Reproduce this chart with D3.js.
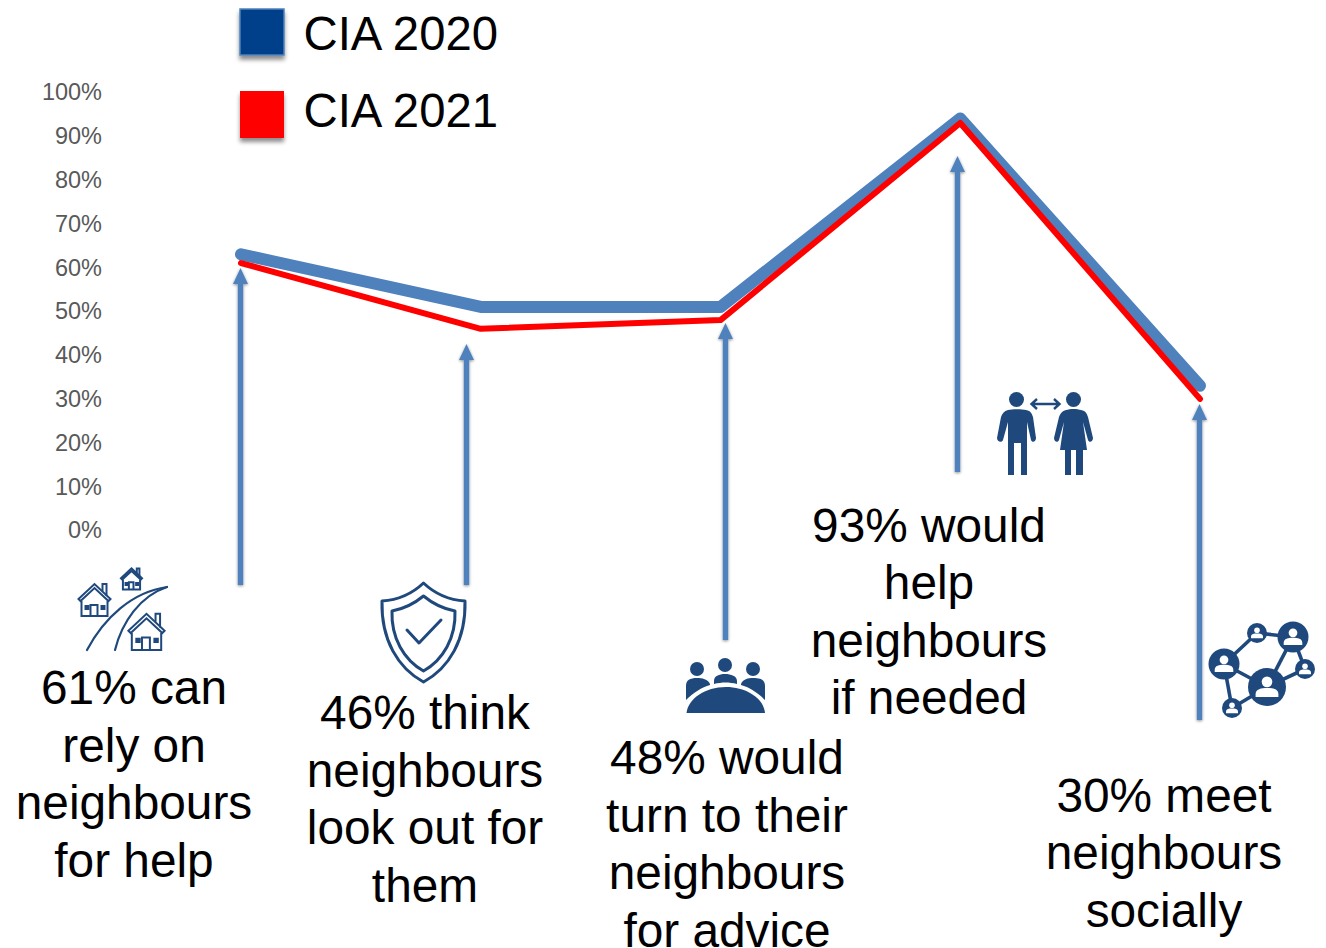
<!DOCTYPE html>
<html>
<head>
<meta charset="utf-8">
<script src="https://cdn.jsdelivr.net/npm/d3@7"></script>
<style>
html,body{margin:0;padding:0;background:#fff;}
svg{display:block;}
text{font-family:"Liberation Sans",Arial,sans-serif;}
</style>
</head>
<body>
<svg id="chart" width="1326" height="948"></svg>
<script>
// Neighbourhood survey results, two survey waves
const categories = ["Rely on neighbours","Look out for them","Turn for advice","Would help","Meet socially"];
const cia2020 = [63, 51, 51, 94, 33];
const cia2021 = [61, 46, 48, 93, 30];
const yTicks = [0,10,20,30,40,50,60,70,80,90,100];
const seriesNames = ["CIA 2020","CIA 2021"];
const captions = [
  ["61% can","rely on","neighbours","for help"],
  ["46% think","neighbours","look out for","them"],
  ["48% would","turn to their","neighbours","for advice"],
  ["93% would","help","neighbours","if needed"],
  ["30% meet","neighbours","socially"]
];

const BLUE = "#4f81bd", NAVY = "#1f497d", RED = "#ff0000";
const svg = d3.select("#chart");

const defs = svg.append("defs");
const soft = defs.append("filter").attr("id","soft").attr("filterUnits","userSpaceOnUse")
  .attr("x",0).attr("y",0).attr("width",1326).attr("height",948);
soft.append("feDropShadow").attr("dx",0).attr("dy",1).attr("stdDeviation",1.8).attr("flood-color","#000").attr("flood-opacity",0.45);
const swatchShadow = defs.append("filter").attr("id","swatchShadow").attr("x","-20%").attr("y","-20%").attr("width","140%").attr("height","150%");
swatchShadow.append("feDropShadow").attr("dx",0).attr("dy",4).attr("stdDeviation",2.2).attr("flood-color","#000").attr("flood-opacity",0.45);

const x = d3.scalePoint().domain(categories).range([241,1200]);
const y = d3.scaleLinear().domain([0,100]).range([530.3,92.3]);

// Percentage axis: labels only
const axis = svg.append("g").attr("transform","translate(102,0)")
  .call(d3.axisLeft(y).tickValues(yTicks).tickFormat(d=>d+"%").tickSize(0).tickPadding(0));
axis.select(".domain").remove();
axis.selectAll("text")
  .style("font-family",'"Liberation Sans",Arial,sans-serif')
  .attr("font-size",23.5).attr("fill","#595959").attr("dy","0.32em");

// Pointer arrows linking each caption to its point on the line
const pointers = [
  {x:240.500,top:268,bottom:585},
  {x:466.500,top:344,bottom:585},
  {x:725.500,top:323,bottom:640},
  {x:957.500,top:156,bottom:472},
  {x:1199.500,top:404,bottom:720}
];
svg.append("g").selectAll("path").data(pointers).join("path")
  .attr("filter","url(#soft)").attr("fill",BLUE)
  .attr("d",p=>`M${p.x},${p.top}L${p.x+7.5},${p.top+16}L${p.x+2.7},${p.top+16}L${p.x+2.7},${p.bottom}L${p.x-2.7},${p.bottom}L${p.x-2.7},${p.top+16}L${p.x-7.5},${p.top+16}Z`);

// Series lines
const line = d3.line().x((d,i)=>x(categories[i])).y(d=>y(d));
svg.append("path").datum(cia2020).attr("d",line).attr("fill","none")
  .attr("stroke",BLUE).attr("stroke-width",12).attr("stroke-linecap","round").attr("stroke-linejoin","round");
svg.append("path").datum(cia2021).attr("d",line).attr("fill","none")
  .attr("stroke",RED).attr("stroke-width",6).attr("stroke-linecap","round").attr("stroke-linejoin","round");

// Legend
const legendRows = [
  {fill:"#03408a",stroke:BLUE,y:9,h:46,base:50},
  {fill:RED,stroke:"none",y:91,h:47,base:127}
];
legendRows.forEach((r,i)=>{
  svg.append("rect").attr("x",240).attr("y",r.y).attr("width",44).attr("height",r.h)
    .attr("fill",r.fill).attr("stroke",r.stroke).attr("stroke-width",r.stroke==="none"?0:1.5)
    .attr("filter","url(#swatchShadow)");
  svg.append("text").attr("x",303.5).attr("y",r.base).attr("font-size",47.3).attr("fill","#000").text(seriesNames[i]);
});

// Captions
const captionAnchors = [
  {x:134,base:704.4},{x:425,base:729.4},{x:727,base:774},{x:929,base:541.6},{x:1164,base:811.6}
];
captions.forEach((lines,i)=>{
  const a = captionAnchors[i];
  svg.append("g").selectAll("text").data(lines).join("text")
    .attr("x",a.x).attr("y",(d,k)=>a.base+k*57.5)
    .attr("text-anchor","middle").attr("font-size",47.8).attr("fill","#000").text(d=>d);
});

// ---- Pictograms ----
function house(g,cx,base,s){
  const h = g.append("g").attr("transform",`translate(${cx},${base}) scale(${s})`)
    .attr("fill","none").attr("stroke",NAVY).attr("stroke-width",2/s).attr("stroke-linejoin","miter");
  h.append("path").attr("d","M-16,-17L0,-32L16,-17L14,-15L0,-28L-14,-15Z").attr("fill","#fff");
  h.append("path").attr("d","M-13,-15V0H13V-15");
  h.append("path").attr("d","M-4,0V-11H3V0");
  h.append("path").attr("d","M8,-25V-32H12V-20");
  h.append("path").attr("d","M-9,-10h3v3h-3zM7,-10h3v3h-3z").attr("fill",NAVY);
}
const roads = svg.append("g").attr("fill","none").attr("stroke",NAVY).attr("stroke-width",2.2).attr("stroke-linecap","round");
roads.append("path").attr("d","M87,650C104,618 132,592 167,587");
roads.append("path").attr("d","M115,650C122,622 140,596 167,587");
house(svg,94.5,616,1);
house(svg,131.5,589.5,0.66);
house(svg,146.5,650,1.13);

const shield = svg.append("g").attr("fill","none").attr("stroke",NAVY).attr("stroke-width",3).attr("stroke-linejoin","round").attr("stroke-linecap","round");
shield.append("path").attr("d","M423.5,583C434,593 449,600 465,601C466,640 449,668 423.5,682C398,668 381,640 382,601C398,600 413,593 423.5,583Z");
shield.append("path").attr("d","M423.5,596C432,603 444,609 455,611C456,638 443,660 423.5,671C404,660 391,638 392,611C403,609 415,603 423.5,596Z");
shield.append("path").attr("d","M407,630L419,643L441,620").attr("stroke-width",3);

const meeting = svg.append("g").attr("fill",NAVY);
[[697,669],[725,665],[753,669]].forEach(([cx,cy])=>meeting.append("circle").attr("cx",cx).attr("cy",cy).attr("r",7));
meeting.append("path").attr("d","M686,700V686C686,680 690,678 697,678C702,678 708,679 710,684L710,685C702,687 693,693 686,700Z");
meeting.append("path").attr("d","M714,684V681C714,676 719,674 725,674C731,674 737,676 737,681V684C729,682 722,682 714,684Z");
meeting.append("path").attr("d","M765,700V686C765,680 761,678 753,678C748,678 743,679 741,684L741,685C749,687 758,693 765,700Z");
meeting.append("path").attr("d","M686.5,713C688,699 705,687 726,687C747,687 764,699 765,713Z");

const people = svg.append("g").attr("fill",NAVY);
people.append("circle").attr("cx",1016.5).attr("cy",399.5).attr("r",7.5);
people.append("circle").attr("cx",1073.5).attr("cy",399.5).attr("r",7.5);
people.append("path").attr("d","M1008,410C1012,409 1022,409 1026,410C1031,411 1032,414 1033,417L1036,438C1036,442 1032,443 1031,440L1027,422V475H1021V443H1014V475H1008V422L1003,440C1002,443 997,442 997,438L1001,417C1002,414 1004,411 1008,410Z");
people.append("path").attr("d","M1066,410C1070,408.500 1077,408.500 1081,410C1086,411 1087,414 1088,417L1093,438C1093,442 1089,443 1088,440L1083,422L1087,450H1083V475H1076V450H1071V475H1065V450H1060L1064,422L1059,440C1058,443 1054,442 1054,438L1059,417C1060,414 1062,411 1066,410Z");
const link = svg.append("g").attr("fill","none").attr("stroke",NAVY).attr("stroke-width",2.4);
link.append("path").attr("d","M1033,404H1058M1037,399L1031.500,404L1037,409M1054,399L1059.500,404L1054,409");

// Social network: nodes joined by links, each holding a person glyph
const netNodes = [
  {x:1257,y:633,r:10},{x:1293,y:637,r:15.5},{x:1224,y:664,r:15.5},
  {x:1305,y:669,r:10},{x:1267,y:687,r:19},{x:1232,y:708,r:10}
];
const netLinks = [[0,1],[0,2],[1,4],[1,3],[2,4],[2,5],[4,5],[3,4]];
const net = svg.append("g");
net.selectAll("line").data(netLinks).join("line")
  .attr("x1",d=>netNodes[d[0]].x).attr("y1",d=>netNodes[d[0]].y)
  .attr("x2",d=>netNodes[d[1]].x).attr("y2",d=>netNodes[d[1]].y)
  .attr("stroke",NAVY).attr("stroke-width",3.6);
net.selectAll("circle.node").data(netNodes).join("circle").attr("class","node")
  .attr("cx",d=>d.x).attr("cy",d=>d.y).attr("r",d=>d.r).attr("fill",NAVY);
net.selectAll("circle.head").data(netNodes).join("circle").attr("class","head")
  .attr("cx",d=>d.x).attr("cy",d=>d.y-d.r*0.27).attr("r",d=>d.r*0.28).attr("fill","#fff");
net.selectAll("path.body").data(netNodes).join("path").attr("class","body").attr("fill","#fff")
  .attr("d",d=>{const r=d.r;return `M${d.x-r*0.6},${d.y+r*0.52}V${d.y+r*0.38}C${d.x-r*0.6},${d.y+r*0.1} ${d.x-r*0.3},${d.y+r*0.05} ${d.x},${d.y+r*0.05}C${d.x+r*0.3},${d.y+r*0.05} ${d.x+r*0.6},${d.y+r*0.1} ${d.x+r*0.6},${d.y+r*0.38}V${d.y+r*0.52}Z`;});
</script>
</body>
</html>
